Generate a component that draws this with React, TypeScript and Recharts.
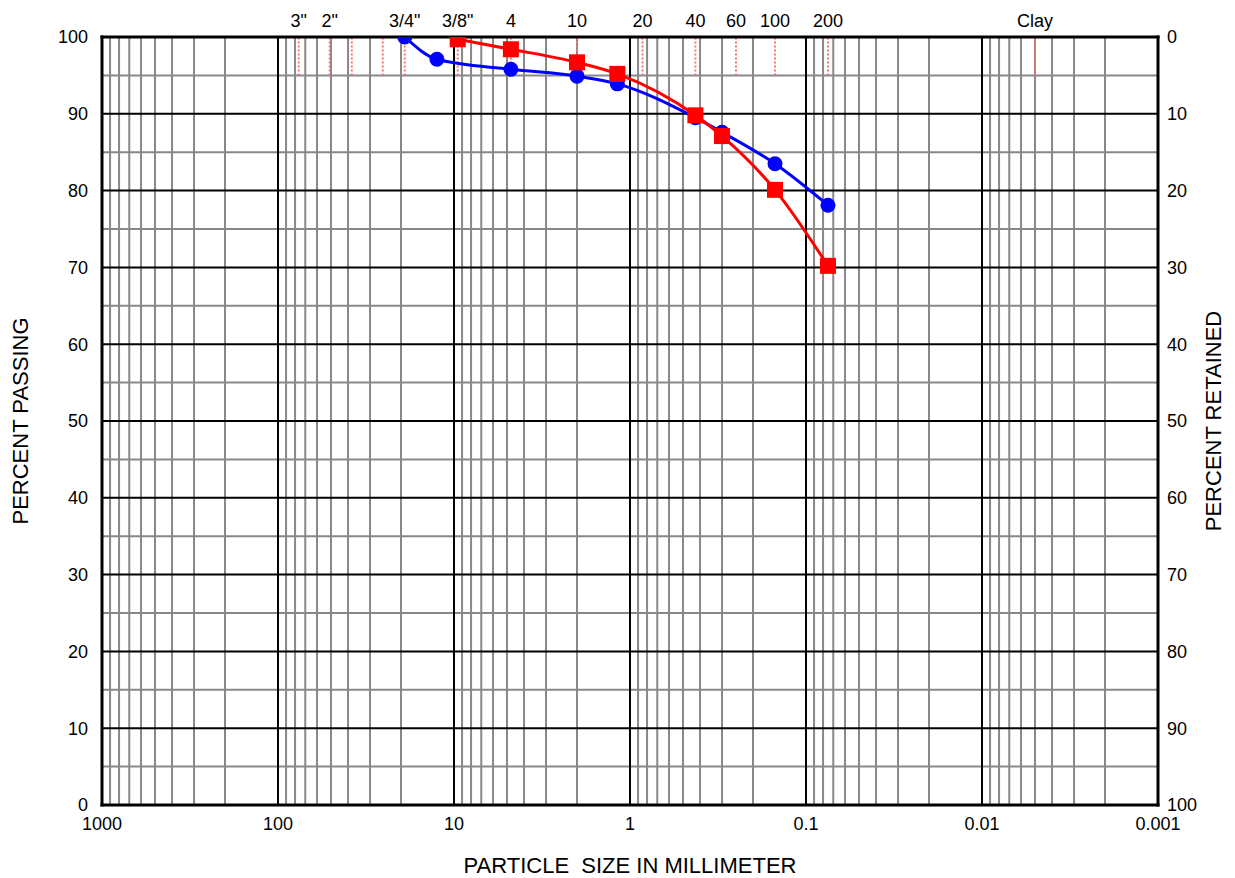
import { ComposedChart, Line, XAxis, YAxis, ReferenceLine } from "recharts";

// sieve openings (mm) shown along the top
const sieveSizes = [76.2, 50.8, 38.1, 25.4, 19.05, 9.525, 4.75, 2.0, 0.85, 0.425, 0.25, 0.15, 0.075, 0.005];
const sieveLabels = ['3"', '2"', "", "", '3/4"', '3/8"', "4", "10", "20", "40", "60", "100", "200", "Clay"];

const decadeTicks = [1000, 100, 10, 1, 0.1, 0.01, 0.001];
const percentTicks = [0, 10, 20, 30, 40, 50, 60, 70, 80, 90, 100];
const halfTicks = [5, 15, 25, 35, 45, 55, 65, 75, 85, 95];

const blueSize = [19.05, 12.5, 4.75, 2.0, 1.18, 0.425, 0.3, 0.15, 0.075];
const bluePassing = [100, 97.1, 95.8, 94.9, 93.9, 89.5, 87.6, 83.5, 78.1];

const redSize = [9.525, 4.75, 2.0, 1.18, 0.425, 0.3, 0.15, 0.075];
const redPassing = [99.7, 98.4, 96.7, 95.2, 89.8, 87.1, 80.1, 70.2];

const blueData = blueSize.map((s, i) => ({ size: s, passing: bluePassing[i] }));
const redData = redSize.map((s, i) => ({ size: s, passing: redPassing[i] }));

// 2..9 inside every decade
const minorX: number[] = [];
[0.001, 0.01, 0.1, 1, 10, 100].forEach((b) => {
  for (let m = 2; m <= 9; m++) minorX.push(+(b * m).toPrecision(3));
});

const labelFor = (v: number) => {
  const i = sieveSizes.indexOf(v);
  return i >= 0 ? sieveLabels[i] : "";
};

const font = { fontFamily: "Liberation Sans, Arial, sans-serif", fontSize: 18, fill: "#000" };
const titleFont = { fontFamily: "Liberation Sans, Arial, sans-serif", fontSize: 22, fill: "#000" };

const SquareDot = (props: any) => {
  const { cx, cy, index } = props;
  if (cx == null || cy == null) return <g key={index} />;
  return <rect key={index} x={cx - 8} y={cy - 8} width={16} height={16} fill="#ff0000" />;
};

export default function App() {
  const border = { stroke: "#000", strokeWidth: 3, strokeLinecap: "square" as const };
  return (
    <div style={{ position: "absolute", left: 0, top: 0 }}>
      <ComposedChart width={1235} height={878} margin={{ top: 0, right: 0, bottom: 0, left: 2 }}>
        <XAxis
          xAxisId="bottom"
          type="number"
          dataKey="size"
          scale="log"
          domain={[0.001, 1000]}
          allowDataOverflow
          reversed
          ticks={decadeTicks}
          tickFormatter={(v: number) => String(v)}
          tick={font}
          tickSize={0}
          tickMargin={12}
          height={73}
          interval={0}
          axisLine={border}
          label={{
            value: "PARTICLE\u00a0 SIZE IN MILLIMETER",
            position: "insideBottom",
            offset: 5,
            style: titleFont,
          }}
        />
        <XAxis
          xAxisId="top"
          orientation="top"
          type="number"
          dataKey="size"
          scale="log"
          domain={[0.001, 1000]}
          allowDataOverflow
          reversed
          ticks={sieveSizes.filter((s, i) => sieveLabels[i] !== "")}
          tickFormatter={labelFor}
          tick={font}
          tickSize={0}
          tickMargin={10}
          height={37}
          interval={0}
          axisLine={border}
        />
        <YAxis
          yAxisId="left"
          type="number"
          domain={[0, 100]}
          allowDataOverflow
          ticks={percentTicks}
          tick={font}
          tickSize={0}
          tickMargin={14}
          width={100}
          interval={0}
          axisLine={border}
          label={{
            value: "PERCENT PASSING",
            angle: -90,
            position: "insideLeft",
            offset: 18,
            style: { ...titleFont, textAnchor: "middle" },
          }}
        />
        <YAxis
          yAxisId="right"
          orientation="right"
          type="number"
          domain={[0, 100]}
          allowDataOverflow
          reversed
          ticks={percentTicks}
          tick={font}
          tickSize={0}
          tickMargin={9}
          width={77}
          interval={0}
          axisLine={border}
          label={{
            value: "PERCENT RETAINED",
            angle: -90,
            position: "insideRight",
            offset: 22,
            style: { ...titleFont, textAnchor: "middle" },
          }}
        />

        {minorX.map((v) => (
          <ReferenceLine key={"mx" + v} xAxisId="bottom" yAxisId="left" x={v} stroke="#888" strokeWidth={2} />
        ))}
        {halfTicks.map((v) => (
          <ReferenceLine key={"my" + v} xAxisId="bottom" yAxisId="left" y={v} stroke="#888" strokeWidth={2} />
        ))}
        {decadeTicks.map((v) => (
          <ReferenceLine key={"dx" + v} xAxisId="bottom" yAxisId="left" x={v} stroke="#000" strokeWidth={2} />
        ))}
        {percentTicks.map((v) => (
          <ReferenceLine key={"dy" + v} xAxisId="bottom" yAxisId="left" y={v} stroke="#000" strokeWidth={2} />
        ))}
        {sieveSizes.map((v) => (
          <ReferenceLine
            key={"sv" + v}
            xAxisId="bottom"
            yAxisId="left"
            segment={[
              { x: v, y: 95 },
              { x: v, y: 100 },
            ]}
            stroke="#ff7070"
            strokeWidth={2}
            strokeDasharray="2 2"
          />
        ))}

        {/* invisible series so the top and right axes get their ticks */}
        <Line
          xAxisId="top"
          yAxisId="right"
          data={blueData}
          dataKey="passing"
          stroke="none"
          dot={false}
          activeDot={false}
          legendType="none"
          isAnimationActive={false}
        />

        <Line
          xAxisId="bottom"
          yAxisId="left"
          data={blueData}
          dataKey="passing"
          type="monotone"
          stroke="#0000ff"
          strokeWidth={3}
          dot={{ r: 7.5, fill: "#0000ff", stroke: "none" }}
          isAnimationActive={false}
        />
        <Line
          xAxisId="bottom"
          yAxisId="left"
          data={redData}
          dataKey="passing"
          type="monotone"
          stroke="#ff0000"
          strokeWidth={3}
          dot={SquareDot}
          isAnimationActive={false}
        />
      </ComposedChart>
    </div>
  );
}
